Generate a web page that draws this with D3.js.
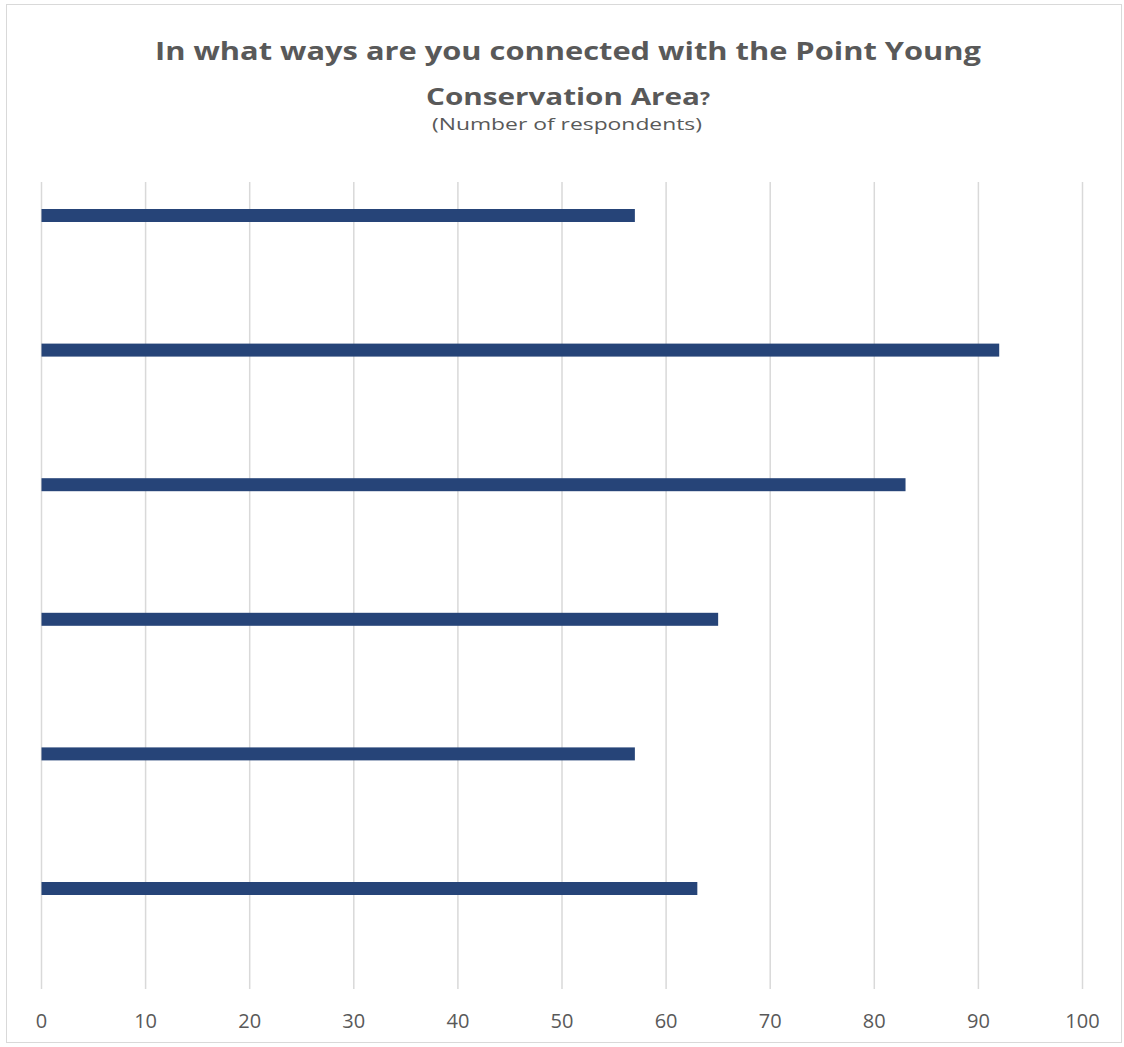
<!DOCTYPE html>
<html><head><meta charset="utf-8">
<script src="https://cdn.jsdelivr.net/npm/d3@7"></script>
<style>body{margin:0;background:#fff}svg{display:block}</style>
</head><body>
<script>
const categories = ["A","B","C","D","E","F"];
const values = [57, 92, 83, 65, 57, 63];
const tickValues = [0,10,20,30,40,50,60,70,80,90,100];
const titleLine1 = "In what ways are you connected with the Point Young";
const titleLine2 = "Conservation Area";
const subtitle = "(Number of respondents)";

const W = 1124, H = 1047;
const svg = d3.select("body").append("svg").attr("width", W).attr("height", H);
svg.append("rect").attr("x",6.5).attr("y",4.5).attr("width",1115).attr("height",1038)
  .attr("fill","#fff").attr("stroke","#d9d9d9").attr("stroke-width",1);

const x = d3.scaleLinear().domain([0,100]).range([41.5,1082.5]);
const y = d3.scalePoint().domain(categories).range([215.5,888.5]);
const barH = 13;

svg.append("g").selectAll("line").data(tickValues).join("line")
  .attr("x1",d=>x(d)).attr("x2",d=>x(d)).attr("y1",182).attr("y2",989)
  .attr("stroke","#d9d9d9").attr("stroke-width",1.5);

svg.append("g").selectAll("rect").data(values).join("rect")
  .attr("x",x(0)).attr("y",(d,i)=>y(categories[i]) - barH/2)
  .attr("width",d=>x(d)-x(0)).attr("height",barH)
  .attr("fill","#264478");

svg.append("g").selectAll("text").data(tickValues).join("text")
  .attr("x",d=>x(d)).attr("y",1028).attr("text-anchor","middle")
  .attr("font-family","Open Sans, sans-serif").attr("font-size",20).attr("fill","#595959")
  .text(d=>d);

svg.append("text").attr("x",568).attr("y",60).attr("text-anchor","middle")
  .attr("font-family","Open Sans, sans-serif").attr("font-weight","bold").attr("font-size",24.5)
  .attr("fill","#595959").attr("textLength",826).attr("lengthAdjust","spacingAndGlyphs").text(titleLine1);
const t2 = svg.append("text").attr("x",568).attr("y",105).attr("text-anchor","middle")
  .attr("font-family","Open Sans, sans-serif").attr("font-weight","bold").attr("font-size",24)
  .attr("fill","#595959").attr("textLength",284).attr("lengthAdjust","spacingAndGlyphs");
t2.append("tspan").text(titleLine2);
t2.append("tspan").attr("font-size",17).text("?");
svg.append("text").attr("x",567).attr("y",130).attr("text-anchor","middle")
  .attr("font-family","Open Sans, sans-serif").attr("font-size",16.5)
  .attr("fill","#595959").attr("textLength",270).attr("lengthAdjust","spacingAndGlyphs").text(subtitle);
</script>
</body></html>
